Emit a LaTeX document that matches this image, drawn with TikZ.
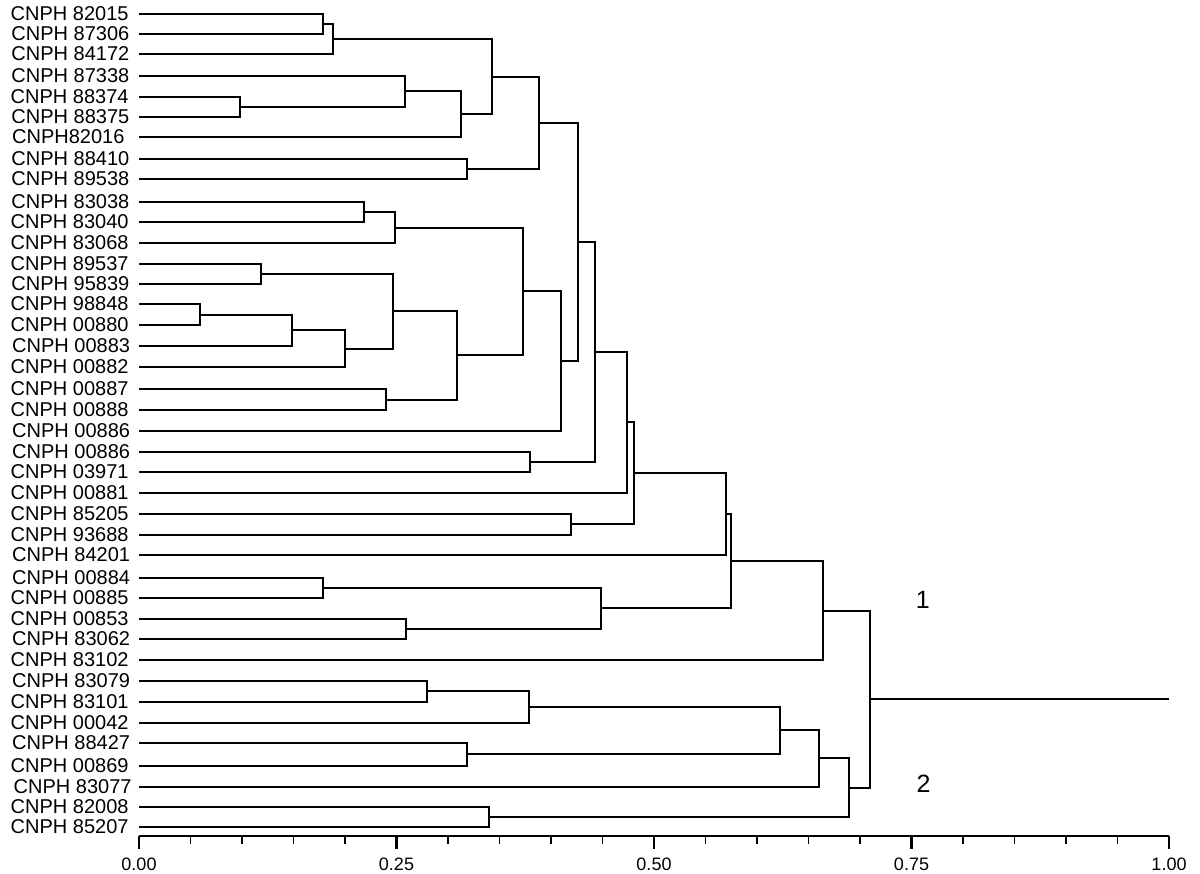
\documentclass[tikz,border=0pt]{standalone}
\usepackage{fontspec}
\setmainfont{Liberation Sans}
\usetikzlibrary{calc}
\newcommand\myleaf[4]{%
  \node[leaflabel] (t#1) at (10.5+#4,#2) {#3};
  \coordinate (l#1) at (139,#2);}
\newcommand\myjoin[5]{%
  \coordinate (#1) at (#2,#3);
  \draw[branch] (#4) -| (#1);
  \draw[branch] (#5) -| (#1);}
\begin{document}
\begin{tikzpicture}[x=1pt,y=-1pt,
  branch/.style={line width=2.8pt, line join=miter},
  rootline/.style={line width=2pt},
  axisline/.style={line width=2.4pt},
  minortick/.style={line width=1.8pt},
  majortick/.style={line width=2.5pt},
  leaflabel/.style={anchor=west, inner sep=0pt, font=\fontsize{20}{20}\selectfont},
  ticklabel/.style={inner sep=0pt, font=\fontsize{18}{18}\selectfont},
  clusterlabel/.style={inner sep=0pt, font=\fontsize{25}{25}\selectfont}]
\useasboundingbox (0,0) rectangle (1200,874);
% leaves
\myleaf{1}{14}{CNPH 82015}{0}
\myleaf{2}{34}{CNPH 87306}{0.8}
\myleaf{3}{54}{CNPH 84172}{0.8}
\myleaf{4}{76}{CNPH 87338}{0.8}
\myleaf{5}{97}{CNPH 88374}{0}
\myleaf{6}{117}{CNPH 88375}{0.8}
\myleaf{7}{137}{CNPH82016}{1.5}
\myleaf{8}{159}{CNPH 88410}{0.8}
\myleaf{9}{179}{CNPH 89538}{0.8}
\myleaf{10}{202}{CNPH 83038}{0.8}
\myleaf{11}{222}{CNPH 83040}{0}
\myleaf{12}{243}{CNPH 83068}{0}
\myleaf{13}{264}{CNPH 89537}{0}
\myleaf{14}{284}{CNPH 95839}{0.8}
\myleaf{15}{304}{CNPH 98848}{0}
\myleaf{16}{325}{CNPH 00880}{0}
\myleaf{17}{346}{CNPH 00883}{1.5}
\myleaf{18}{367}{CNPH 00882}{0}
\myleaf{19}{389}{CNPH 00887}{0}
\myleaf{20}{410}{CNPH 00888}{0}
\myleaf{21}{431}{CNPH 00886}{1.5}
\myleaf{22}{452}{CNPH 00886}{1.5}
\myleaf{23}{472}{CNPH 03971}{0}
\myleaf{24}{493}{CNPH 00881}{0}
\myleaf{25}{514}{CNPH 85205}{0}
\myleaf{26}{535}{CNPH 93688}{0}
\myleaf{27}{555}{CNPH 84201}{1.5}
\myleaf{28}{578}{CNPH 00884}{1.5}
\myleaf{29}{598}{CNPH 00885}{0}
\myleaf{30}{619}{CNPH 00853}{0}
\myleaf{31}{639}{CNPH 83062}{1.5}
\myleaf{32}{660}{CNPH 83102}{0}
\myleaf{33}{681}{CNPH 83079}{1.5}
\myleaf{34}{702}{CNPH 83101}{0}
\myleaf{35}{723}{CNPH 00042}{0}
\myleaf{36}{743}{CNPH 88427}{1.5}
\myleaf{37}{766}{CNPH 00869}{0}
\myleaf{38}{787}{CNPH 83077}{3}
\myleaf{39}{807}{CNPH 82008}{0}
\myleaf{40}{827}{CNPH 85207}{0}
% cluster 1
\myjoin{nA}{323}{24}{l1}{l2}
\myjoin{nB}{333}{39}{nA}{l3}
\myjoin{nC}{240}{107}{l5}{l6}
\myjoin{nD}{405}{91}{l4}{nC}
\myjoin{nE}{461}{114}{nD}{l7}
\myjoin{nF}{492}{77}{nB}{nE}
\myjoin{nG}{467}{169}{l8}{l9}
\myjoin{nH}{539}{123}{nF}{nG}
\myjoin{nI}{364}{212}{l10}{l11}
\myjoin{nJ}{395}{228}{nI}{l12}
\myjoin{nK}{261}{274}{l13}{l14}
\myjoin{nL}{200}{315}{l15}{l16}
\myjoin{nM}{292}{330}{nL}{l17}
\myjoin{nN}{345}{349}{nM}{l18}
\myjoin{nO}{393}{311}{nK}{nN}
\myjoin{nP}{386}{400}{l19}{l20}
\myjoin{nQ}{457}{355}{nO}{nP}
\myjoin{nR}{523}{291}{nJ}{nQ}
\myjoin{nS}{561}{361}{nR}{l21}
\myjoin{nT}{578}{242}{nH}{nS}
\myjoin{nU}{530}{462}{l22}{l23}
\myjoin{nV}{595}{352}{nT}{nU}
\myjoin{nW}{627}{422}{nV}{l24}
\myjoin{nX}{571}{524}{l25}{l26}
\myjoin{nY}{634}{473}{nW}{nX}
\myjoin{nZ}{726}{514}{nY}{l27}
\myjoin{na}{323}{588}{l28}{l29}
\myjoin{nb}{406}{629}{l30}{l31}
\myjoin{nc}{601}{608}{na}{nb}
\myjoin{nd}{731}{561}{nZ}{nc}
\myjoin{ne}{823}{611}{nd}{l32}
% cluster 2
\myjoin{nf}{427}{691}{l33}{l34}
\myjoin{ng}{529}{707}{nf}{l35}
\myjoin{nh}{467}{754}{l36}{l37}
\myjoin{ni}{780}{730}{ng}{nh}
\myjoin{nj}{819}{758}{ni}{l38}
\myjoin{nk}{489}{817}{l39}{l40}
\myjoin{nl}{849}{788}{nj}{nk}
\myjoin{root}{870}{699}{ne}{nl}
\coordinate (rootend) at (1169,699);
\draw[rootline] (root) -- (rootend);
% cluster labels
\node[clusterlabel] (c1) at (922.7,600.3) {1};
\node[clusterlabel] (c2) at (923.5,784) {2};
% axis
\coordinate (ax0) at (139,836);
\coordinate (ax1) at (1169,836);
\draw[axisline] (ax0) -- (ax1);
\foreach \i in {1,2,3,4,6,7,8,9,11,12,13,14,16,17,18,19}
  \draw[minortick] ($(ax0)!\i/20!(ax1)$) -- ++(0,8);
\foreach \i/\lab in {0/0.00,5/0.25,10/0.50,15/0.75,20/1.00}{
  \draw[majortick] ($(ax0)!\i/20!(ax1)$) -- ++(0,12.5);
  \node[ticklabel] (tl\i) at ($(ax0)!\i/20!(ax1)+(0,28)$) {\lab};}
\end{tikzpicture}
\end{document}
